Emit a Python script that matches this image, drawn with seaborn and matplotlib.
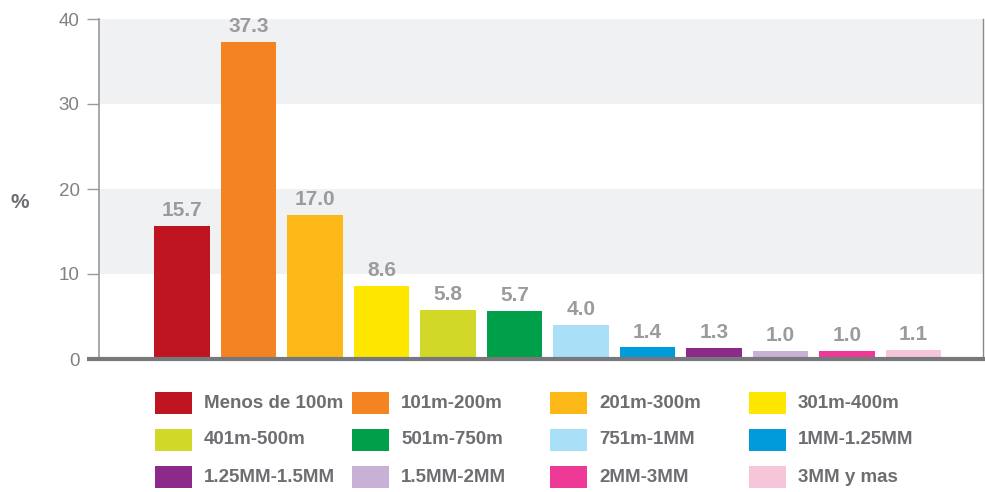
import numpy as np
import pandas as pd
import matplotlib
matplotlib.use('Agg')
import matplotlib.pyplot as plt
from matplotlib.patches import Rectangle
import seaborn as sns

# Distribution by range (%)
categories = ['Menos de 100m', '101m-200m', '201m-300m', '301m-400m',
              '401m-500m', '501m-750m', '751m-1MM', '1MM-1.25MM',
              '1.25MM-1.5MM', '1.5MM-2MM', '2MM-3MM', '3MM y mas']
values = [15.7, 37.3, 17.0, 8.6, 5.8, 5.7, 4.0, 1.4, 1.3, 1.0, 1.0, 1.1]
colors = ['#be1520', '#f38421', '#fbb817', '#ffe600', '#d2d828', '#00a04b',
          '#a9dff7', '#009bdb', '#8c2a8c', '#c9b0d5', '#ee3a96', '#f7c5da']
yticks = [0, 10, 20, 30, 40]

df = pd.DataFrame({'rango': categories, 'pct': values})

sns.set_style('white')
plt.rcParams['font.family'] = ['Liberation Sans', 'DejaVu Sans']

W, H = 985, 492
fig = plt.figure(figsize=(W / 100, H / 100), dpi=100)
ax = fig.add_axes([99 / W, 1 - 359 / H, 884 / W, 340 / H])

# alternating background bands
band = '#f0f1f3'
ax.axhspan(10, 20, color=band, zorder=0, lw=0)
ax.axhspan(30, 40, color=band, zorder=0, lw=0)

sns.barplot(data=df, x='rango', y='pct', hue='rango', palette=colors,
            order=categories, hue_order=categories, width=0.84,
            legend=False, saturation=1, linewidth=0, edgecolor='none',
            ax=ax, zorder=2)

for c in ax.containers:
    ax.bar_label(c, fmt='%.1f', padding=4, fontsize=15, fontweight='bold',
                 color='#9b9b9d')

ax.set_xlim(-1.248, 12.045)
ax.set_ylim(0, 40)
ax.set_yticks(yticks)
ax.set_xticks([])
ax.set_xlabel('')
ax.set_ylabel('')
ax.tick_params(axis='y', length=9, width=1, color='#9a9a9c', pad=5,
               labelsize=13.5, labelcolor='#808184', left=True)

ax.spines['top'].set_visible(False)
ax.spines['left'].set_color('#9a9a9c')
ax.spines['left'].set_linewidth(1.2)
ax.spines['right'].set_color('#8a8a8c')
ax.spines['right'].set_linewidth(1.0)
ax.spines['bottom'].set_visible(False)
# thick baseline running from the tick tips to the right edge
ax.plot([-12 / 884, 1.002], [0, 0], transform=ax.transAxes, color='#77787b',
        lw=3, clip_on=False, zorder=5, solid_capstyle='butt')

fig.text(20 / W, 1 - 202 / H, '%', fontsize=15, fontweight='bold',
         color='#6d6e71', ha='center', va='center')

# legend laid out row by row, 4 columns
col_x = [155, 352, 550, 749]
row_y = [403, 440, 477]
pw, ph = 37, 22
for i, (lab, col) in enumerate(zip(categories, colors)):
    x0 = col_x[i % 4]
    yc = row_y[i // 4]
    fig.add_artist(Rectangle((x0 / W, 1 - (yc + ph / 2) / H), pw / W, ph / H,
                             transform=fig.transFigure, facecolor=col,
                             edgecolor='none'))
    fig.text((x0 + pw + 12) / W, 1 - yc / H, lab, fontsize=13.5,
             fontweight='bold', color='#6d6e71', ha='left', va='center',
             family=['Liberation Sans Narrow', 'Liberation Sans'])

plt.savefig('out.png', dpi=100)
plt.close()
